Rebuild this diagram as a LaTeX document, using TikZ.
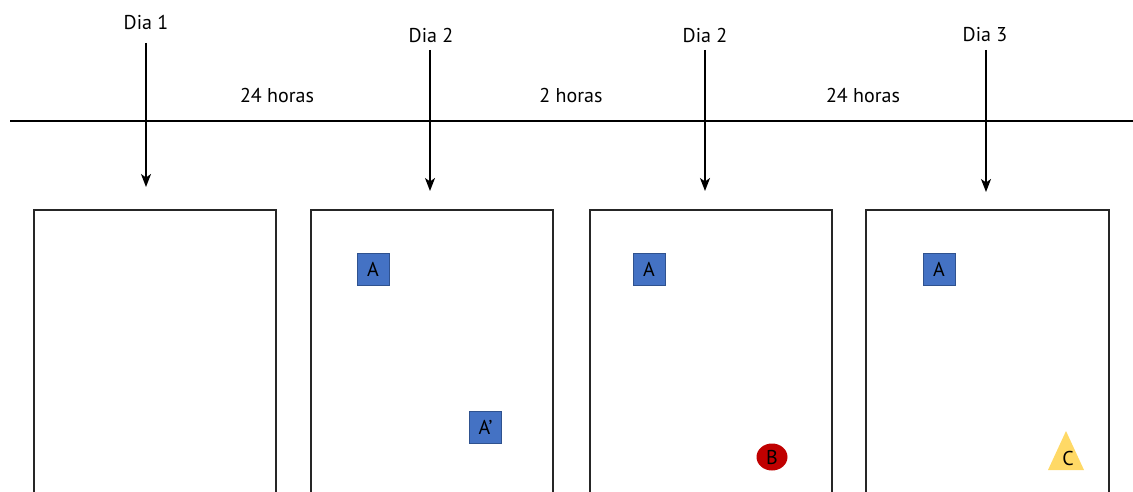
\documentclass[tikz,border=0pt]{standalone}
\usepackage{fontspec}
\setmainfont{PT Sans}
\usetikzlibrary{arrows.meta,shapes.geometric}
\definecolor{sqblue}{HTML}{4472C4}
\definecolor{sqedge}{HTML}{2F528F}
\definecolor{bred}{HTML}{C00000}
\definecolor{cyel}{HTML}{FFD966}
\tikzset{
  lbl/.style={font=\fontsize{20}{22}\selectfont, inner sep=0pt},
  dayarrow/.style={line width=1.4pt, -{Stealth[length=13pt,width=10pt,inset=3.5pt]}},
  panel/.style={draw=black!85, line width=1.3pt},
  objfont/.style={font=\fontsize{20}{22}\selectfont},
  sq/.style={draw=sqedge, fill=sqblue, line width=0.8pt, minimum size=32pt, inner sep=0pt, objfont},
}
\begin{document}
\begin{tikzpicture}[x=1pt,y=-1pt]
\useasboundingbox (0,0) rectangle (1133,492);
% timeline
\coordinate (tl0) at (10,121);
\coordinate (tl1) at (1133,121);
\draw[line width=1.4pt] (tl0) -- (tl1);
% day labels
\node[lbl] (d1) at (146,22) {Dia 1};
\node[lbl] (d2) at (431,35) {Dia 2};
\node[lbl] (d3) at (705,35) {Dia 2};
\node[lbl] (d4) at (985,35) {Dia 3};
\coordinate (e1) at (146,187);
\coordinate (e2) at (430,191);
\coordinate (e3) at (705,191);
\coordinate (e4) at (986,192);
\draw[dayarrow] (146,43) -- (e1);
\draw[dayarrow] (430,50) -- (e2);
\draw[dayarrow] (705,50) -- (e3);
\draw[dayarrow] (986,50) -- (e4);
% interval labels
\node[lbl] (h1) at (277,96) {24 horas};
\node[lbl] (h2) at (571,96) {2 horas};
\node[lbl] (h3) at (863,96) {24 horas};
% panels
\draw[panel] (34,500) -- (34,210) -- (276,210) -- (276,500);
\draw[panel] (311,500) -- (311,210) -- (553,210) -- (553,500);
\draw[panel] (590,500) -- (590,210) -- (832,210) -- (832,500);
\draw[panel] (866,500) -- (866,210) -- (1109,210) -- (1109,500);
% objects
\node[sq] (a2) at (373,269.5) {A};
\node[sq] (ap) at (485.5,427.5) {A’};
\node[sq] (a3) at (649,269.5) {A};
\node[sq] (a4) at (939,269.5) {A};
\node[ellipse, fill=bred, minimum width=31pt, minimum height=27pt, inner sep=0pt, objfont] (b) at (772,457) {B};
\fill[cyel] (1048,470) -- (1066,431) -- (1084,470) -- cycle;
\node[objfont, inner sep=0pt] (c) at (1068,458) {C};
\end{tikzpicture}
\end{document}
